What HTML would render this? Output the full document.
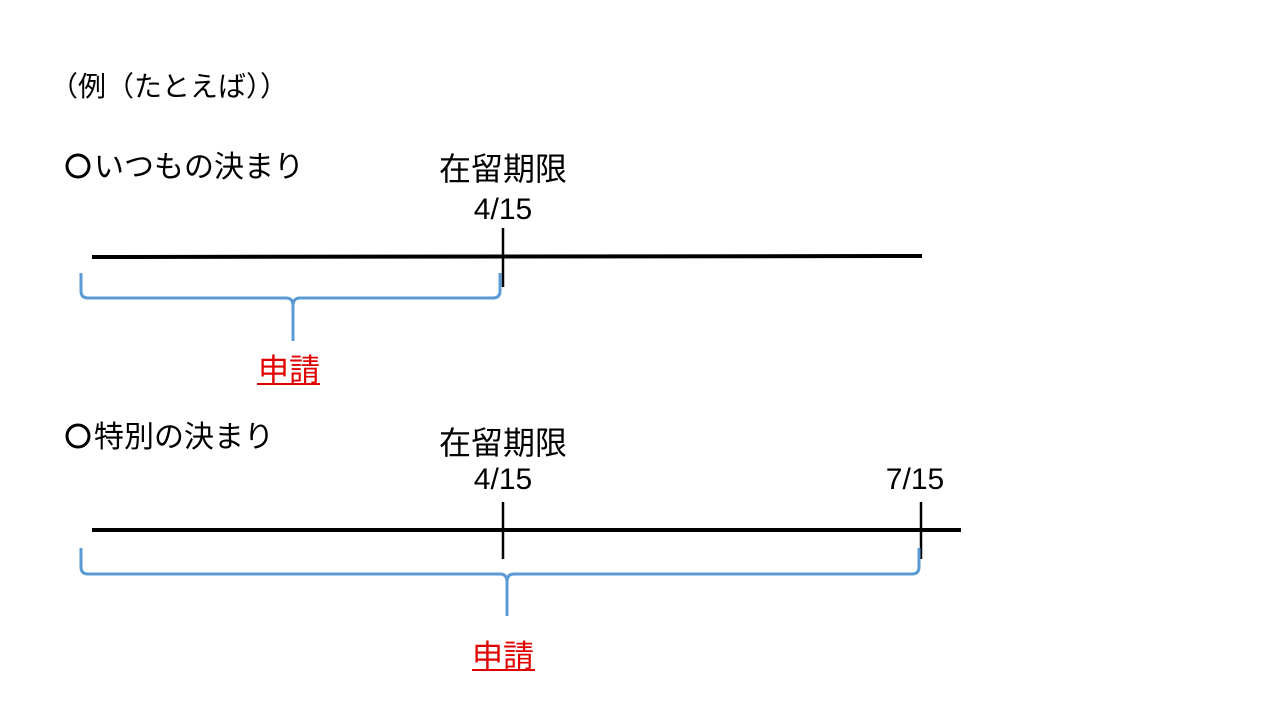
<!DOCTYPE html>
<html><head><meta charset="utf-8"><style>
html,body{margin:0;padding:0;background:#fff;width:1280px;height:720px;overflow:hidden}
svg{display:block}
text{font-family:"Liberation Sans","Noto Sans CJK JP",sans-serif;fill:#000}
</style></head><body>
<svg width="1280" height="720" viewBox="0 0 1280 720" xmlns="http://www.w3.org/2000/svg">
<text x="50" y="96" font-size="28">（例（たとえば））</text>
<circle cx="78" cy="166" r="11" fill="none" stroke="#000" stroke-width="3"/>
<text x="94" y="177" font-size="30">いつもの決まり</text>
<text x="503" y="180" font-size="32" text-anchor="middle">在留期限</text>
<text x="503" y="219" font-size="30" text-anchor="middle">4/15</text>
<line x1="92" y1="257" x2="922" y2="256" stroke="#000" stroke-width="4"/>
<line x1="503" y1="228" x2="503" y2="287" stroke="#000" stroke-width="2.5"/>
<path d="M81,273 V291 Q81,298 88,298 H286 Q293,298 293,306 V341 M293,306 Q293,298 300,298 H493 Q500,298 500,291 V273" fill="none" stroke="#5b9bd5" stroke-width="3"/>
<text x="289" y="381" font-size="31" text-anchor="middle" style="fill:#e00000">申請</text>
<line x1="257" y1="384" x2="320" y2="384" stroke="#e00000" stroke-width="2"/>
<circle cx="78" cy="436" r="11" fill="none" stroke="#000" stroke-width="3"/>
<text x="94" y="447" font-size="30">特別の決まり</text>
<text x="503" y="454" font-size="32" text-anchor="middle">在留期限</text>
<text x="503" y="489" font-size="30" text-anchor="middle">4/15</text>
<text x="915" y="489" font-size="30" text-anchor="middle">7/15</text>
<line x1="92" y1="530" x2="961" y2="530" stroke="#000" stroke-width="4"/>
<line x1="503" y1="502" x2="503" y2="559" stroke="#000" stroke-width="2.5"/>
<line x1="921" y1="502" x2="921" y2="559" stroke="#000" stroke-width="2.5"/>
<path d="M81,548 V567 Q81,574 88,574 H500 Q507,574 507,582 V616 M507,582 Q507,574 514,574 H912 Q919,574 919,567 V548" fill="none" stroke="#5b9bd5" stroke-width="3"/>
<text x="503" y="667" font-size="31" text-anchor="middle" style="fill:#e00000">申請</text>
<line x1="472" y1="670" x2="535" y2="670" stroke="#e00000" stroke-width="2"/>
</svg>
</body></html>
